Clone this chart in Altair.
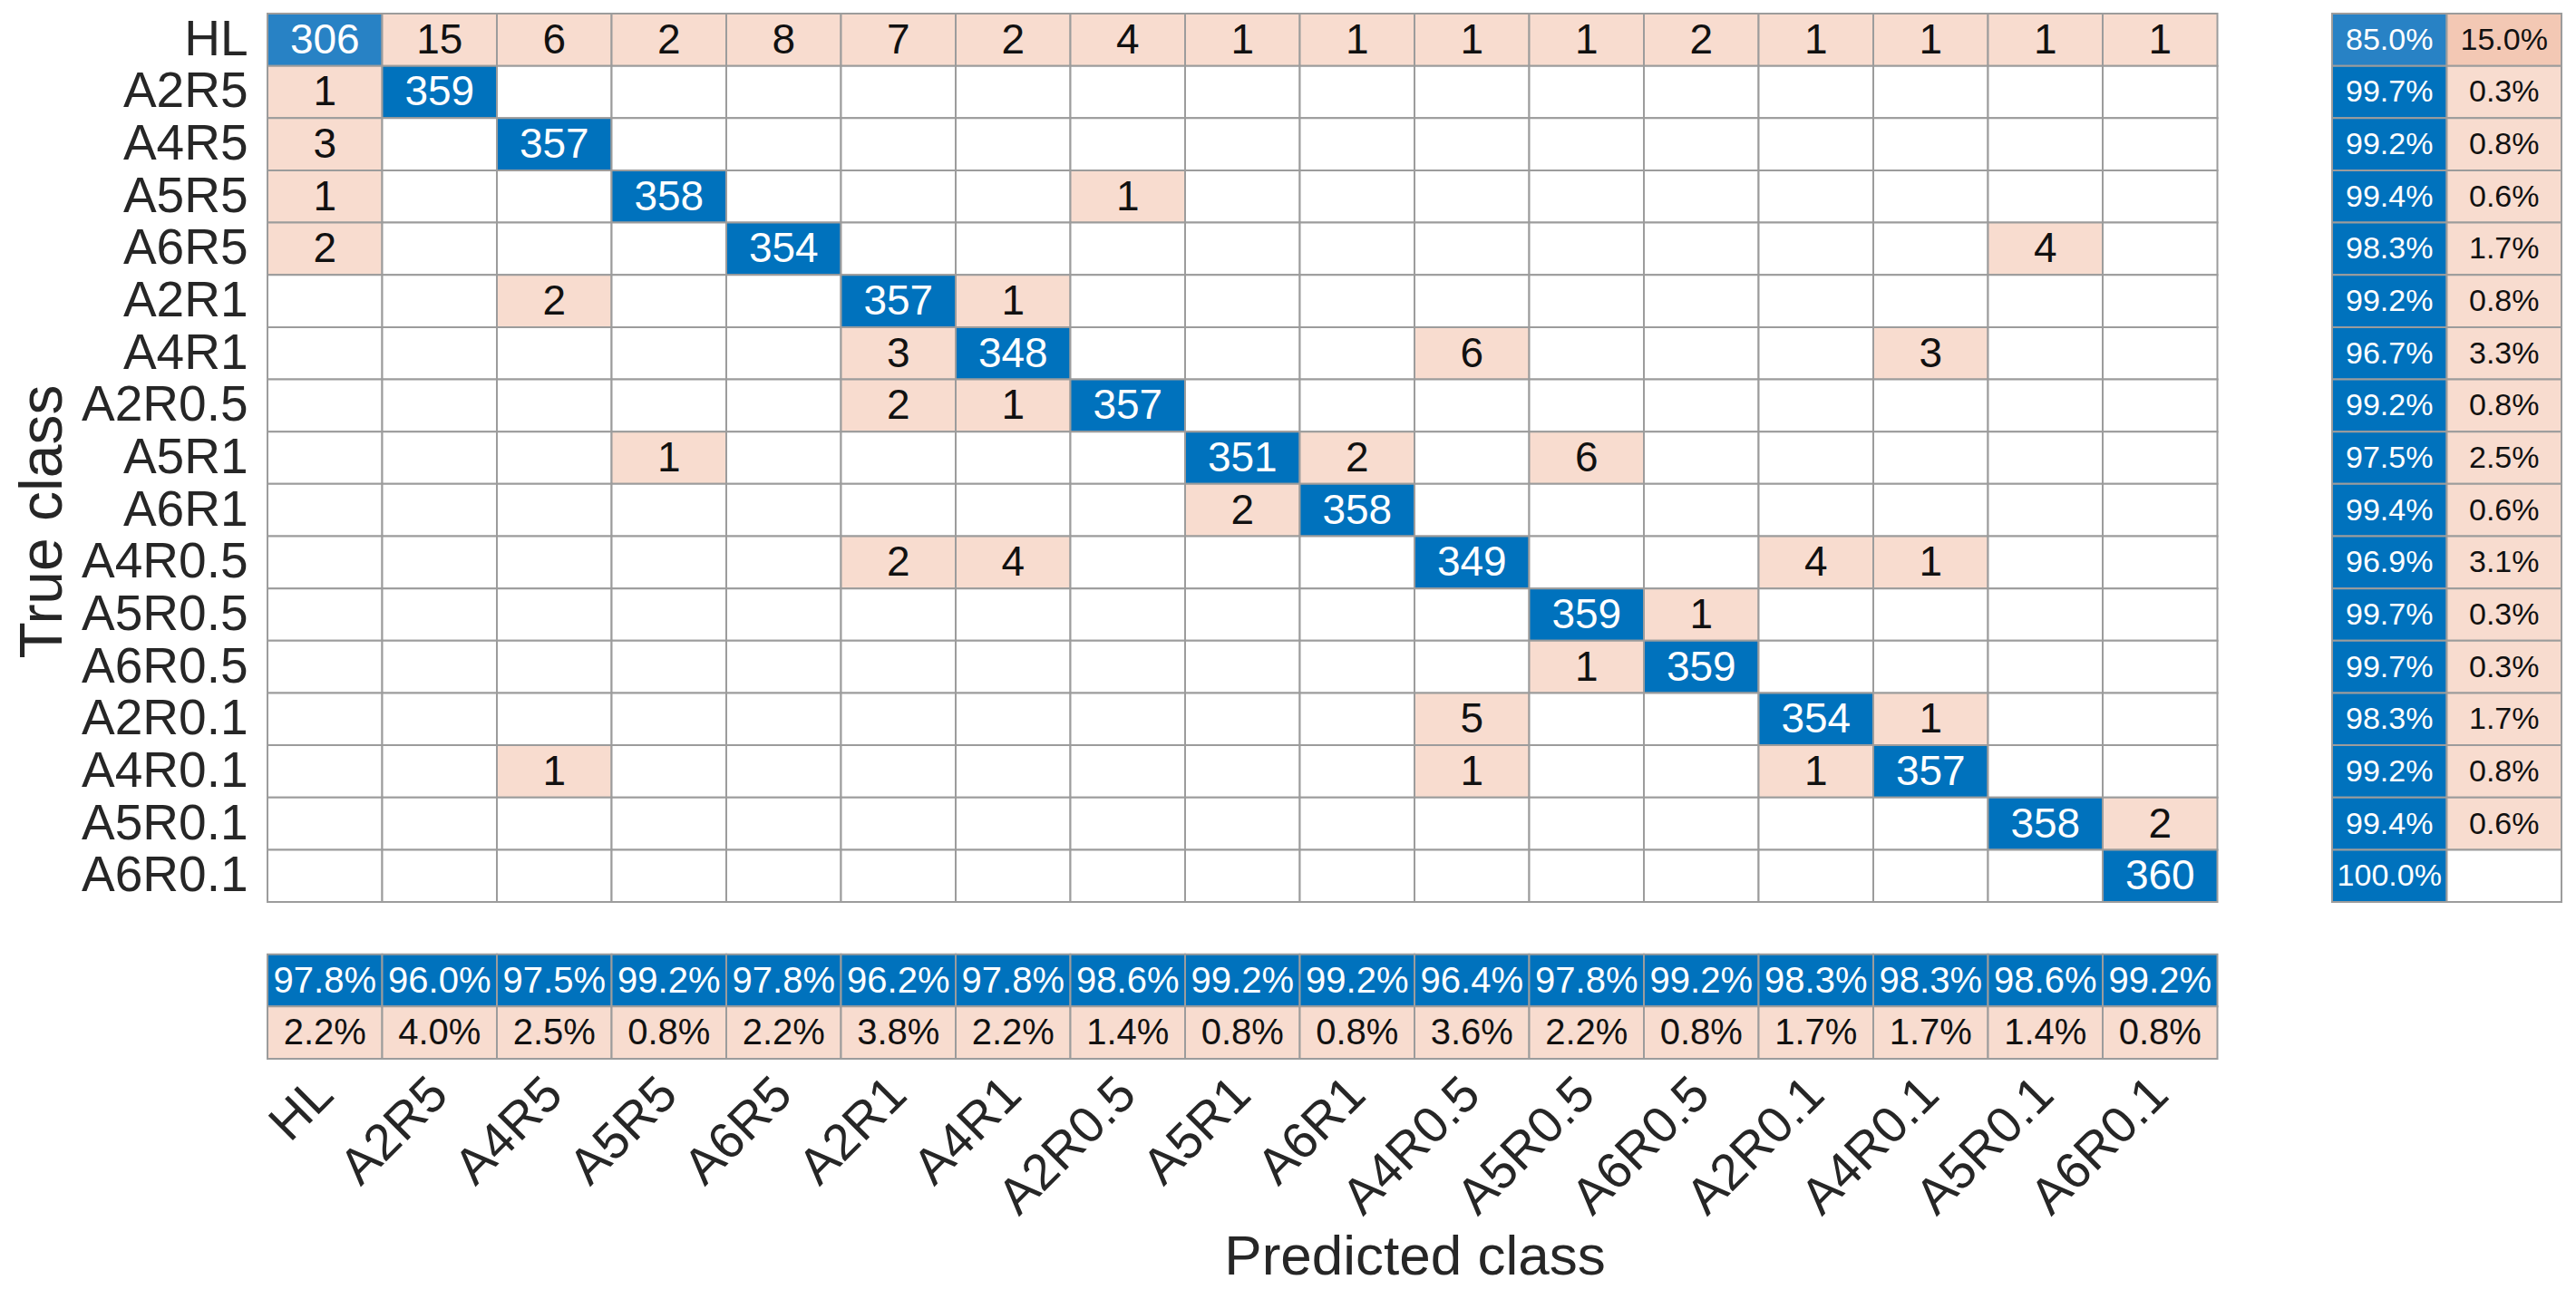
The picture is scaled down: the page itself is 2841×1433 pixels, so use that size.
import altair as alt
import pandas as pd

classes = ["HL", "A2R5", "A4R5", "A5R5", "A6R5", "A2R1", "A4R1", "A2R0.5", "A5R1",
           "A6R1", "A4R0.5", "A5R0.5", "A6R0.5", "A2R0.1", "A4R0.1", "A5R0.1", "A6R0.1"]

# rows = true class, columns = predicted class (0 = empty cell)
counts = [
    [306, 15, 6, 2, 8, 7, 2, 4, 1, 1, 1, 1, 2, 1, 1, 1, 1],
    [1, 359, 0, 0, 0, 0, 0, 0, 0, 0, 0, 0, 0, 0, 0, 0, 0],
    [3, 0, 357, 0, 0, 0, 0, 0, 0, 0, 0, 0, 0, 0, 0, 0, 0],
    [1, 0, 0, 358, 0, 0, 0, 1, 0, 0, 0, 0, 0, 0, 0, 0, 0],
    [2, 0, 0, 0, 354, 0, 0, 0, 0, 0, 0, 0, 0, 0, 0, 4, 0],
    [0, 0, 2, 0, 0, 357, 1, 0, 0, 0, 0, 0, 0, 0, 0, 0, 0],
    [0, 0, 0, 0, 0, 3, 348, 0, 0, 0, 6, 0, 0, 0, 3, 0, 0],
    [0, 0, 0, 0, 0, 2, 1, 357, 0, 0, 0, 0, 0, 0, 0, 0, 0],
    [0, 0, 0, 1, 0, 0, 0, 0, 351, 2, 0, 6, 0, 0, 0, 0, 0],
    [0, 0, 0, 0, 0, 0, 0, 0, 2, 358, 0, 0, 0, 0, 0, 0, 0],
    [0, 0, 0, 0, 0, 2, 4, 0, 0, 0, 349, 0, 0, 4, 1, 0, 0],
    [0, 0, 0, 0, 0, 0, 0, 0, 0, 0, 0, 359, 1, 0, 0, 0, 0],
    [0, 0, 0, 0, 0, 0, 0, 0, 0, 0, 0, 1, 359, 0, 0, 0, 0],
    [0, 0, 0, 0, 0, 0, 0, 0, 0, 0, 5, 0, 0, 354, 1, 0, 0],
    [0, 0, 1, 0, 0, 0, 0, 0, 0, 0, 1, 0, 0, 1, 357, 0, 0],
    [0, 0, 0, 0, 0, 0, 0, 0, 0, 0, 0, 0, 0, 0, 0, 358, 2],
    [0, 0, 0, 0, 0, 0, 0, 0, 0, 0, 0, 0, 0, 0, 0, 0, 360],
]

row_correct = [85.0, 99.7, 99.2, 99.4, 98.3, 99.2, 96.7, 99.2, 97.5, 99.4, 96.9, 99.7, 99.7, 98.3, 99.2, 99.4, 100.0]
row_error = [15.0, 0.3, 0.8, 0.6, 1.7, 0.8, 3.3, 0.8, 2.5, 0.6, 3.1, 0.3, 0.3, 1.7, 0.8, 0.6, 0.0]
col_correct = [97.8, 96.0, 97.5, 99.2, 97.8, 96.2, 97.8, 98.6, 99.2, 99.2, 96.4, 97.8, 99.2, 98.3, 98.3, 98.6, 99.2]
col_error = [2.2, 4.0, 2.5, 0.8, 2.2, 3.8, 2.2, 1.4, 0.8, 0.8, 3.6, 2.2, 0.8, 1.7, 1.7, 1.4, 0.8]

xdom = classes + ["gap_x", "rs_ok", "rs_err"]
ydom = classes + ["gap_y", "cs_ok", "cs_err"]

recs = []
for i, t in enumerate(classes):
    for j, p in enumerate(classes):
        v = counts[i][j]
        if i == j:
            kind = "diag" if v / 360 >= 0.9 else "diag_low"
        else:
            kind = "off" if v > 0 else "empty"
        recs.append(dict(x=p, y=t, kind=kind, label=str(v) if v > 0 else "", grp="m"))
for i, t in enumerate(classes):
    ok, er = row_correct[i], row_error[i]
    recs.append(dict(x="rs_ok", y=t, kind="diag" if ok >= 90 else "diag_low",
                     label=f"{ok:.1f}%", grp="r"))
    recs.append(dict(x="rs_err", y=t,
                     kind="empty" if er == 0 else ("off_high" if er >= 10 else "off"),
                     label="" if er == 0 else f"{er:.1f}%", grp="r"))
for j, p in enumerate(classes):
    recs.append(dict(x=p, y="cs_ok", kind="diag", label=f"{col_correct[j]:.1f}%", grp="c"))
    recs.append(dict(x=p, y="cs_err", kind="off", label=f"{col_error[j]:.1f}%", grp="c"))

df = pd.DataFrame(recs)

FONT = "Liberation Sans"
xs = alt.Scale(domain=xdom, paddingInner=0, paddingOuter=0)
ys = alt.Scale(domain=ydom, paddingInner=0, paddingOuter=0)

xenc = alt.X("x:N", scale=xs, sort=xdom,
             axis=alt.Axis(values=classes, title="Predicted class", labelAngle=-45,
                           labelAlign="right", labelBaseline="middle", labelPadding=30,
                           labelFontSize=56, labelFont=FONT, labelColor="#262626",
                           labelLimit=0, labelOverlap=False,
                           ticks=False, domain=False, grid=False,
                           titleFont=FONT, titleFontSize=62, titleFontWeight="normal",
                           titleColor="#262626", titleX=1265, titleY=218,
                           titleAlign="center", titleBaseline="middle"))
yenc = alt.Y("y:N", scale=ys, sort=ydom,
             axis=alt.Axis(values=classes, title="True class", labelFontSize=55,
                           labelFont=FONT, labelColor="#262626", labelPadding=22,
                           labelLimit=0, labelOverlap=False,
                           ticks=False, domain=False, grid=False,
                           titleFont=FONT, titleFontSize=66, titleFontWeight="normal",
                           titleColor="#262626", titleX=-248, titleY=560,
                           titleAngle=270, titleAlign="center", titleBaseline="middle"))

base = alt.Chart(df)

rects = base.mark_rect(stroke="#9c9c9c", strokeWidth=2).encode(
    x=xenc, y=yenc,
    color=alt.Color("kind:N", legend=None,
                    scale=alt.Scale(domain=["diag", "diag_low", "off", "off_high", "empty"],
                                    range=["#0072BD", "#2882C5", "#F8DCCF", "#F3C8B4", "#FFFFFF"])),
)

txtcolor = alt.condition("datum.kind == 'diag' || datum.kind == 'diag_low'",
                         alt.value("#FFFFFF"), alt.value("#111111"))


def textlayer(grp, size):
    return base.transform_filter(alt.datum.grp == grp).mark_text(
        font=FONT, fontSize=size, align="center", baseline="middle", dy=1
    ).encode(x=alt.X("x:N", scale=xs, sort=xdom), y=alt.Y("y:N", scale=ys, sort=ydom),
             text="label:N", color=txtcolor)


chart = alt.layer(rects, textlayer("m", 46), textlayer("r", 34), textlayer("c", 40)).properties(
    width=2530, height=1153,
    background="white",
    autosize=alt.AutoSizeParams(type="none"),
    padding={"left": 287, "top": 7, "right": 8, "bottom": 262},
).configure_view(stroke=None)

chart.save("out.html", embed_options={"renderer": "svg", "actions": False})
